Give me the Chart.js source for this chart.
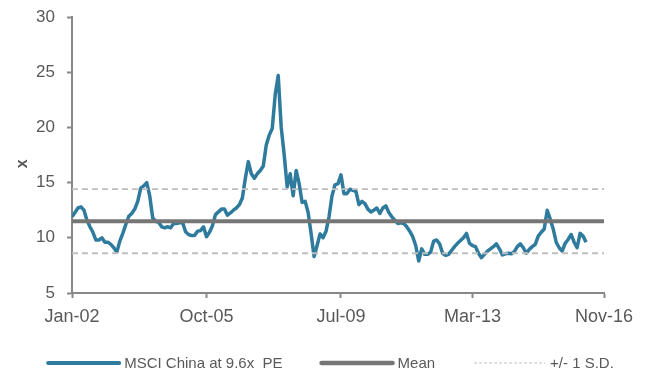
<!DOCTYPE html>
<html>
<head>
<meta charset="utf-8">
<title>MSCI China PE</title>
<script src="https://cdn.jsdelivr.net/npm/chart.js@4"></script>
<style>
    html, body { margin: 0; padding: 0; background: #fff; }
</style>
</head>
<body>
<canvas id="peChart" width="646" height="371"></canvas>
<script>
// --- Data ---
const tickLabels = ['Jan-02', 'Oct-05', 'Jul-09', 'Mar-13', 'Nov-16'];
// months after Jan-02 for each axis label
const tickMonths = [0, 45, 90, 134, 178];

// monthly PE readings, starting Jan-02
const peValues = [
    11.9, 12.3, 12.7, 12.8, 12.5, 11.6, 11.0, 10.5, 9.8, 9.8,
    10.0, 9.6, 9.6, 9.4, 9.1, 8.7, 9.7, 10.4, 11.2, 11.95,
    12.2, 12.6, 13.3, 14.5, 14.7, 15.0, 13.8, 11.8, 11.5, 11.4,
    11.0, 10.9, 11.0, 10.9, 11.3, 11.3, 11.35, 11.4, 10.55, 10.3,
    10.2, 10.2, 10.6, 10.65, 11.0, 10.1, 10.5, 11.1, 12.1, 12.35,
    12.6, 12.6, 12.05, 12.25, 12.5, 12.7, 13.0, 13.6, 15.4, 16.9,
    15.8, 15.4, 15.8, 16.1, 16.5, 18.4, 19.3, 19.9, 23.0, 24.7,
    20.0, 17.5, 14.6, 15.8, 13.8, 16.1, 14.9, 13.2, 13.3, 12.3,
    10.4, 8.3, 9.3, 10.35, 10.0, 10.6, 11.9, 13.8, 14.8, 14.9,
    15.7, 14.0, 14.0, 14.4, 14.3, 14.2, 13.0, 13.3, 13.1, 12.6,
    12.35, 12.5, 12.7, 12.2, 12.7, 12.9, 12.3, 11.9, 11.6, 11.3,
    11.35, 11.3, 11.0, 10.6, 10.1, 9.3, 7.9, 9.0, 8.5, 8.5,
    8.7, 9.7, 9.8, 9.45, 8.6, 8.4, 8.5, 8.85, 9.2, 9.5,
    9.75, 10.0, 10.4, 9.5, 9.3, 9.2, 8.6, 8.2, 8.5, 8.8,
    9.0, 9.2, 9.45, 9.0, 8.45, 8.55, 8.6, 8.55, 8.75, 9.2,
    9.45, 9.1, 8.6, 8.95, 9.2, 9.4, 10.15, 10.5, 10.8, 12.5,
    11.7, 10.8, 9.6, 9.1, 8.8, 9.5, 9.85, 10.3, 9.6, 9.1,
    10.4, 10.15, 9.6
];

const meanPE = 11.5;
const upperSD = 14.4;
const lowerSD = 8.6;

const seriesNames = ['MSCI China at 9.6x  PE', 'Mean', '+/- 1 S.D.'];

// --- Styling ---
const fontFamily = "'Liberation Sans', Arial, sans-serif";
const textColor = '#595959';
const axisColor = '#888888';
const lineBlue = '#2f7b9d';
const meanGrey = '#767676';
const sdGrey = '#bfbfbf';

Chart.defaults.font.family = fontFamily;

// flat line across the whole axis range
const flat = value => [
    { x: tickMonths[0], y: value },
    { x: tickMonths[tickMonths.length - 1], y: value }
];

// legend drawn as one row under the axis: line sample, then its name
const legendRow = {
    id: 'legendRow',
    afterDraw(chart, args, opts) {
        const ctx = chart.ctx;
        const entries = chart.data.datasets.filter(ds => ds.legend);
        ctx.save();
        ctx.font = `${opts.fontSize}px ${fontFamily}`;
        ctx.textBaseline = 'middle';
        const widths = entries.map(ds =>
            opts.sampleLength + opts.sampleGap + ctx.measureText(ds.label).width);
        const total = widths.reduce((a, b) => a + b, 0) + opts.itemGap * (entries.length - 1);
        let x = opts.centerX - total / 2;
        entries.forEach((ds, i) => {
            ctx.beginPath();
            ctx.strokeStyle = ds.borderColor;
            ctx.lineWidth = ds.legend.width;
            ctx.lineCap = ds.legend.dash ? 'butt' : 'round';
            ctx.setLineDash(ds.legend.dash || []);
            ctx.moveTo(x, opts.y);
            ctx.lineTo(x + opts.sampleLength, opts.y);
            ctx.stroke();
            ctx.setLineDash([]);
            ctx.fillStyle = textColor;
            ctx.fillText(ds.label, x + opts.sampleLength + opts.sampleGap, opts.y + 1);
            x += widths[i] + opts.itemGap;
        });
        ctx.restore();
    }
};

new Chart(document.getElementById('peChart'), {
    type: 'line',
    data: {
        datasets: [
            {
                label: seriesNames[0],
                data: peValues.map((y, i) => ({ x: i, y })),
                borderColor: lineBlue,
                borderWidth: 3.5,
                borderJoinStyle: 'round',
                pointRadius: 0,
                tension: 0,
                order: 3,
                legend: { width: 4 }
            },
            {
                label: seriesNames[1],
                data: flat(meanPE),
                borderColor: meanGrey,
                borderWidth: 4,
                pointRadius: 0,
                order: 2,
                legend: { width: 4.5 }
            },
            {
                label: seriesNames[2],
                data: flat(upperSD),
                borderColor: sdGrey,
                borderWidth: 1.8,
                borderDash: [6, 4],
                pointRadius: 0,
                order: 1,
                legend: { width: 1.2, dash: [3, 2] }
            },
            {
                label: seriesNames[2],
                data: flat(lowerSD),
                borderColor: sdGrey,
                borderWidth: 1.8,
                borderDash: [6, 4],
                pointRadius: 0,
                order: 1
            }
        ]
    },
    options: {
        responsive: false,
        animation: false,
        events: [],
        layout: {
            padding: { top: 17, right: 42, bottom: 40, left: 13 }
        },
        scales: {
            x: {
                type: 'linear',
                min: tickMonths[0],
                max: tickMonths[tickMonths.length - 1],
                afterBuildTicks: scale => {
                    scale.ticks = tickMonths.map(value => ({ value }));
                },
                afterFit: scale => { scale.height = 38; },
                ticks: {
                    autoSkip: false,
                    maxRotation: 0,
                    padding: 8,
                    color: textColor,
                    font: { size: 18 },
                    callback: (value, index) => tickLabels[index]
                },
                grid: {
                    drawOnChartArea: false,
                    tickLength: 5,
                    tickWidth: 2,
                    tickColor: axisColor
                },
                border: { color: axisColor, width: 2 }
            },
            y: {
                min: 5,
                max: 30,
                afterFit: scale => {
                    scale.width = 59;
                    // only half a label of room is needed above 30
                    scale.paddingTop = 10;
                    scale.paddingBottom = 10;
                },
                ticks: {
                    stepSize: 5,
                    padding: 12,
                    color: textColor,
                    font: { size: 17 }
                },
                // trailing spaces nudge the rotated title a little lower
                title: {
                    display: true,
                    text: 'x    ',
                    color: textColor,
                    font: { size: 16, weight: 'bold' },
                    padding: 0
                },
                grid: {
                    drawOnChartArea: false,
                    tickLength: 5,
                    tickWidth: 2,
                    tickColor: axisColor
                },
                border: { color: axisColor, width: 2 }
            }
        },
        plugins: {
            tooltip: { enabled: false },
            legend: { display: false },
            legendRow: {
                y: 363,
                centerX: 331,
                fontSize: 15,
                sampleLength: 71,
                sampleGap: 5,
                itemGap: 39
            }
        }
    },
    plugins: [legendRow]
});
</script>
</body>
</html>
